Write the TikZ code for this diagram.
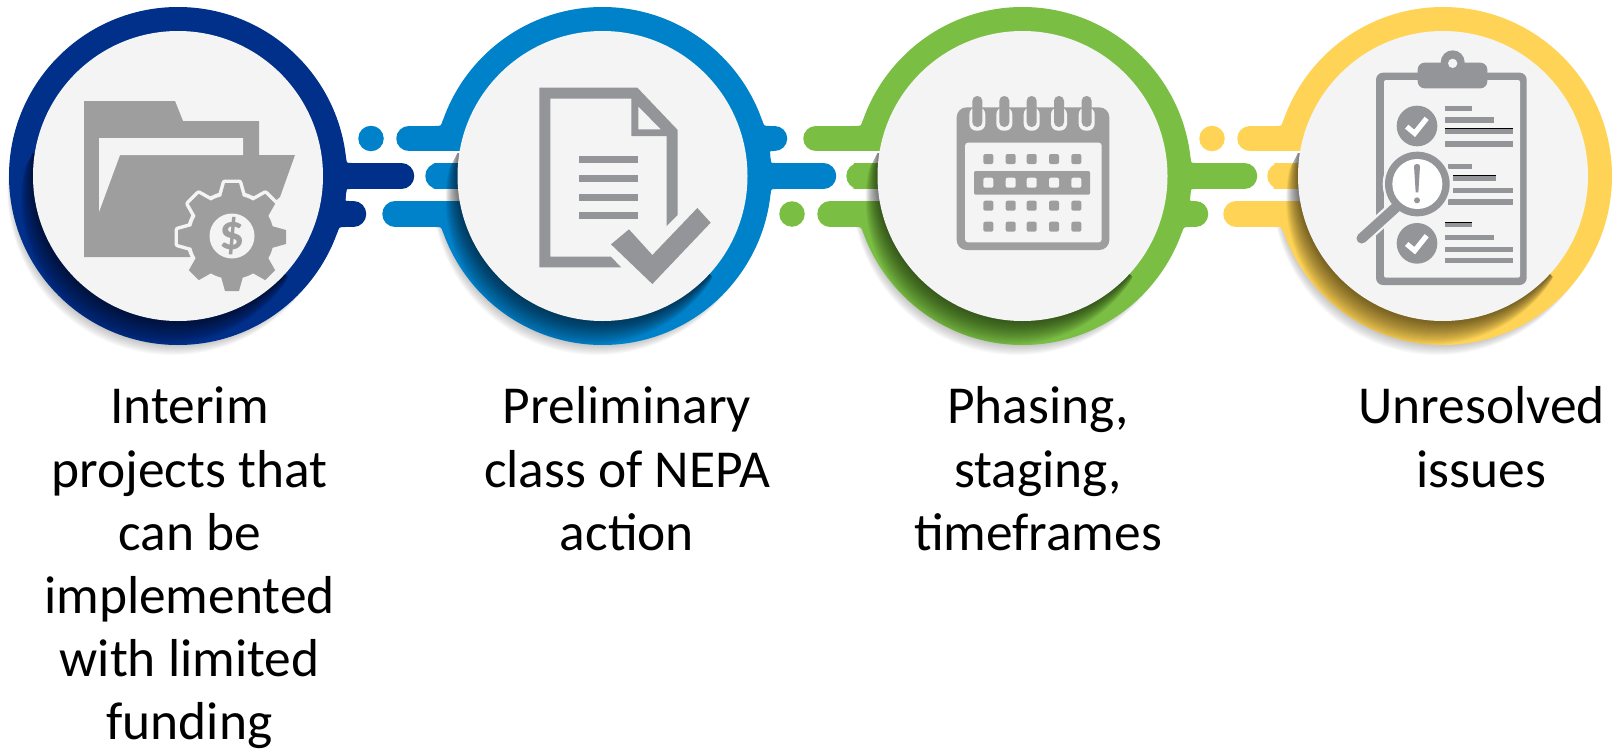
\documentclass[tikz,border=0pt]{standalone}
\usepackage{fontspec}
\setmainfont{Carlito}
\definecolor{cdark}{HTML}{00308A}
\definecolor{cblue}{HTML}{0082CA}
\definecolor{cgreen}{HTML}{7ABF43}
\definecolor{cyell}{HTML}{FFD456}
\definecolor{disc}{HTML}{F4F4F4}
\definecolor{ifold}{HTML}{9E9E9E}
\definecolor{icoln}{HTML}{939598}
\tikzset{
  px/.style={x=0.5pt,y=-0.5pt},
  zoomed/.style={x=0.16667pt,y=-0.16667pt},
  barline/.style={line width=12.75pt,line cap=round},
  lbl/.style={anchor=north,inner sep=0pt,align=center,text=black,font=\fontsize{26.7}{31.6}\selectfont},
  innerdisc/.style={circle,fill=disc,draw=none,inner sep=0pt,minimum size=145pt},
}
\newcommand{\firststrut}{\rule{0pt}{20pt}}
% soft shadow below a ring
\newcommand{\softshadow}[1]{%
  \foreach \i in {1,...,14}{\fill[black,opacity=0.022] (#1-0.4*\i,176+\i) circle [radius=165];}}
% crescent shadow cast by the disc on its ring
\newcommand{\crescent}[1]{%
  \begin{scope}
    \clip (#1,176) circle [radius=169];
    \clip (#1,176) -- ++(-145,-23) -- ++(-33,63) -- ++(0,160) -- ++(263,0) -- ++(12,-73) -- ++(13,-26) -- cycle;
    \foreach \i in {1,...,24}{\fill[black,opacity=0.028] (#1-0.5*\i,176+\i) circle [radius=145];}
  \end{scope}}
\newcommand{\gaps}[1]{%
  \fill[white] (#1-180,151) rectangle (#1-120,163);
  \fill[white] (#1-180,189) rectangle (#1-120,201);}
% concave fillet: colour, centre x, side (+1 right, -1 left), bar edge y, direction (-1 up, +1 down), size
\newcommand{\fillet}[6]{%
  \pgfmathsetmacro{\fa}{#2+#3*sqrt(169-abs(#4-176))*sqrt(169+abs(#4-176))}%
  \pgfmathsetmacro{\fb}{#2+#3*sqrt(169-abs(#4+#5*#6-176))*sqrt(169+abs(#4+#5*#6-176))}%
  \fill[#1] (\fa-#3*2,#4) -- (\fa+#3*#6,#4) .. controls (\fa,#4) .. (\fb,#4+#5*#6) -- (\fb-#3*2,#4+#5*#6) -- cycle;}
\begin{document}
\begin{tikzpicture}[px]
\useasboundingbox (0,0) rectangle (1612,750);
\softshadow{178}\softshadow{602.5}\softshadow{1022.5}\softshadow{1443}
% rings
\fill[cdark] (178,176) circle [radius=169];
\fill[cblue] (602.5,176) circle [radius=169];
\fill[cgreen] (1022.5,176) circle [radius=169];
\fill[cyell] (1443,176) circle [radius=169];
\gaps{602.5}\gaps{1022.5}\gaps{1443}
% bars, gap 1-2
\fill[cblue] (371,138.5) circle [radius=12.75];
\draw[barline,cblue] (409,138.5) -- (500,138.5);
\draw[barline,cdark] (300,176) -- (401.5,176);
\draw[barline,cblue] (438,176) -- (500,176);
\draw[barline,cdark] (300,214) -- (353.5,214);
\draw[barline,cblue] (395,214) -- (500,214);
% gap 2-3
\draw[barline,cblue] (700,138.5) -- (774.5,138.5);
\draw[barline,cgreen] (816,138.5) -- (920,138.5);
\draw[barline,cblue] (700,176) -- (823.5,176);
\draw[barline,cgreen] (859,176) -- (920,176);
\fill[cgreen] (792,214) circle [radius=12.75];
\draw[barline,cgreen] (830,214) -- (920,214);
% gap 3-4
\fill[cyell] (1212,138.5) circle [radius=12.75];
\draw[barline,cyell] (1250,138.5) -- (1340,138.5);
\draw[barline,cgreen] (1120,176) -- (1244.5,176);
\draw[barline,cyell] (1280,176) -- (1340,176);
\draw[barline,cgreen] (1120,214) -- (1195.5,214);
\draw[barline,cyell] (1236,214) -- (1340,214);
% fillets where bars meet rings
\fillet{cdark}{178}{1}{163}{-1}{5}\fillet{cdark}{178}{1}{189}{1}{4}\fillet{cdark}{178}{1}{201}{-1}{4}\fillet{cdark}{178}{1}{227}{1}{6}
\fillet{cblue}{602.5}{1}{126}{-1}{6}\fillet{cblue}{602.5}{1}{151}{1}{4}\fillet{cblue}{602.5}{1}{163}{-1}{4}\fillet{cblue}{602.5}{1}{189}{1}{5}
\fillet{cblue}{602.5}{-1}{126}{-1}{6}\fillet{cblue}{602.5}{-1}{227}{1}{6}
\fillet{cgreen}{1022.5}{1}{163}{-1}{5}\fillet{cgreen}{1022.5}{1}{189}{1}{4}\fillet{cgreen}{1022.5}{1}{201}{-1}{4}\fillet{cgreen}{1022.5}{1}{227}{1}{6}
\fillet{cgreen}{1022.5}{-1}{126}{-1}{6}\fillet{cgreen}{1022.5}{-1}{227}{1}{6}
\fillet{cyell}{1443}{-1}{126}{-1}{6}\fillet{cyell}{1443}{-1}{227}{1}{6}
% shadows on rings
\crescent{178}\crescent{602.5}\crescent{1022.5}\crescent{1443}
% discs
\node[innerdisc] (disc1) at (178,176) {};
\node[innerdisc] (disc2) at (602.5,176) {};
\node[innerdisc] (disc3) at (1022.5,176) {};
\node[innerdisc] (disc4) at (1443,176) {};
% ---------- folder icon
\fill[ifold] (84,101) -- (175,101) -- (183,121) -- (259,121) -- (259,155) -- (295,155) -- (280,197) -- (232,237) -- (190,257) -- (84,257) -- cycle;
\fill[disc] (99,138) -- (243,138) -- (243,155) -- (120,155) -- (99,212) -- cycle;
\begin{scope}[shift={(232,237)}]
  \foreach \a in {0,45,...,315}{
    \draw[disc,line width=3.5pt,line join=round,fill=disc,rotate=\a] (36,-12) -- (54,-7) -- (54,7) -- (36,12) -- cycle;}
  \fill[disc] (0,0) circle [radius=46];
  \foreach \a in {0,45,...,315}{
    \fill[ifold,rotate=\a] (36,-12) -- (54,-7) -- (54,7) -- (36,12) -- cycle;}
  \fill[ifold] (0,0) circle [radius=42];
  \fill[disc] (0,-1) circle [radius=22.5];
  \node[inner sep=0pt,text=ifold,font=\fontsize{25}{25}\selectfont\bfseries] (dollar) at (0,-1) {\$};
\end{scope}
% ---------- document icon
\begin{scope}[shift={(420,0)},zoomed]
  \fill[icoln] (358,263) -- (652,263) -- (773,390) -- (773,645) -- (740,678) -- (740,408) -- (634,408) -- (634,296) -- (391,296) -- (391,770) -- (572,770) -- (604,802) -- (358,802) -- cycle;
  \fill[disc] (655,320) -- (722,388) -- (655,388) -- cycle;
  \foreach \y/\z in {468/488,526/547,582/603,637/657}{\fill[icoln] (477,\y) rectangle (655,\z);}
  \fill[icoln] (573,733) -- (627,688) -- (697,765) -- (832,624) -- (872,668) -- (697,852) -- cycle;
\end{scope}
% ---------- calendar icon
\begin{scope}[shift={(840,0)},zoomed]
  \fill[ifold,rounded corners=5pt] (350,322) rectangle (808,750);
  \fill[disc,rounded corners=1.5pt] (375,428) rectangle (785,727);
  \foreach \x in {412,493,575,657,740}{
    \fill[disc,rounded corners=3.5pt] (\x-24,322) rectangle (\x+24,392);
    \fill[ifold,rounded corners=2.4pt] (\x-15,288) rectangle (\x+15,381);}
  \fill[ifold,rounded corners=0.7pt] (402,513) rectangle (750,584);
  \foreach \x in {445,512,575,642,709}{
    \fill[ifold,rounded corners=1pt] (\x-15,462) rectangle (\x+15,492);
    \fill[disc,rounded corners=1pt] (\x-15,533) rectangle (\x+15,563);
    \fill[ifold,rounded corners=1pt] (\x-15,602) rectangle (\x+15,632);
    \fill[ifold,rounded corners=1pt] (\x-15,665) rectangle (\x+15,695);}
\end{scope}
% ---------- clipboard icon
\begin{scope}[shift={(1190,0)},zoomed]
  \fill[icoln,rounded corners=3.5pt] (558,218) rectangle (1010,855);
  \fill[disc,rounded corners=1pt] (582,240) rectangle (990,833);
  \fill[icoln] (788,187) circle [radius=36];
  \fill[icoln,rounded corners=3.5pt] (683,188) rectangle (892,265);
  \fill[disc] (788,190) circle [radius=14];
  \fill[icoln] (681,378) circle [radius=61];
  \fill[icoln] (681,730) circle [radius=61];
  \draw[white,line width=2.6pt] (650,380) -- (674,400) -- (710,355);
  \draw[white,line width=2.6pt] (650,732) -- (674,752) -- (710,707);
  \foreach \a/\b/\c/\d in {765/845/317/333,765/913/352/368,765/968/386/402,765/968/423/440,
      775/845/492/508,790/917/526/542,790/968/563/580,775/968/598/614,
      765/845/665/682,765/913/705/721,765/968/740/756,765/968/773/790}{
    \fill[icoln] (\a,\c) rectangle (\b,\d);}
  \foreach \a/\b/\c in {765/968/385,790/917/526,765/845/666}{
    \draw[black,line width=0.4pt] (\a,\c) -- (\b,\c);}
  \draw[disc,line width=7.5pt,line cap=round] (625,615) -- (515,715);
  \fill[disc] (682,552) circle [radius=104];
  \draw[icoln,line width=5.2pt,line cap=round] (620,620) -- (515,715);
  \fill[icoln] (682,552) circle [radius=97];
  \fill[white] (682,552) circle [radius=75];
  \fill[icoln] (672,498) .. controls (675,490) and (687,490) .. (690,498) -- (685,577) -- (677,577) -- cycle;
  \fill[icoln] (681,601) circle [radius=9];
\end{scope}
% ---------- labels
\node[lbl] (t1) at (189.5,383.5) {\firststrut Interim\\projects that\\can be\\implemented\\with limited\\funding};
\node[lbl] (t2) at (627,383.5) {\firststrut Preliminary\\class of NEPA\\action};
\node[lbl] (t3) at (1038,383.5) {\firststrut Phasing,\\staging,\\timeframes};
\node[lbl] (t4) at (1481.5,383.5) {\firststrut Unresolved\\issues};
\end{tikzpicture}
\end{document}
